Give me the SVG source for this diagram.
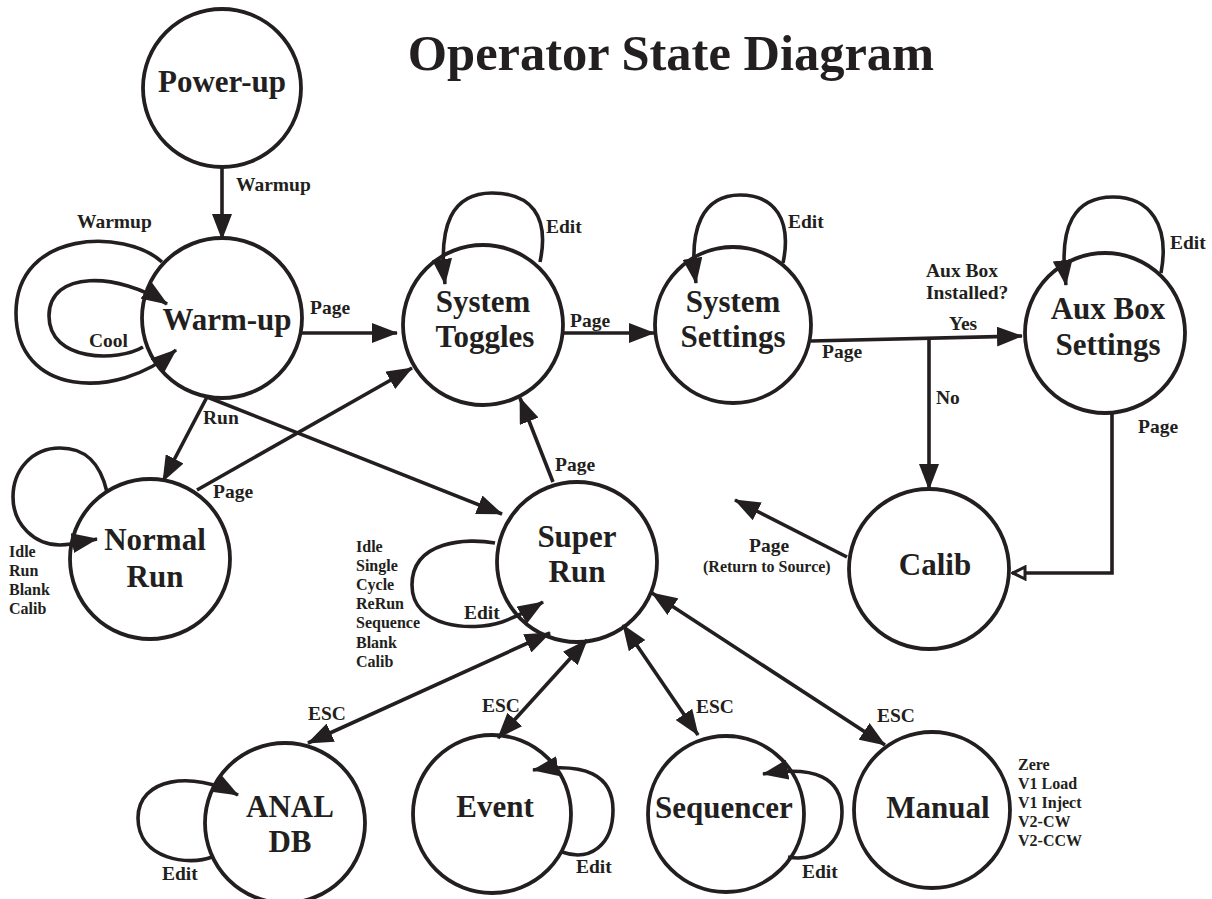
<svg xmlns="http://www.w3.org/2000/svg" width="1212" height="899" viewBox="0 0 1212 899">
<style>
.bg{fill:#ffffff}
.node{fill:none;stroke:#231f20;stroke-width:3.8}
.nt{font-family:"Liberation Serif","DejaVu Serif",serif;font-weight:bold;font-size:31px;fill:#231f20;text-anchor:middle}
.title{font-family:"Liberation Serif","DejaVu Serif",serif;font-weight:bold;font-size:50.5px;fill:#231f20;text-anchor:middle}
.lbl{font-family:"Liberation Serif","DejaVu Serif",serif;font-weight:bold;font-size:19.5px;fill:#231f20}
.sm{font-family:"Liberation Serif","DejaVu Serif",serif;font-weight:bold;font-size:16px;fill:#231f20}
.ln{fill:none;stroke:#231f20;stroke-width:3.6}
.arr{marker-end:url(#ah)}
.dbl{marker-end:url(#ah);marker-start:url(#ah)}
</style>
<defs>
<marker id="ah" viewBox="0 0 26 20" markerWidth="26" markerHeight="20" refX="25" refY="10" orient="auto-start-reverse" markerUnits="userSpaceOnUse">
<path d="M0,0 L26,10 L0,20 z" fill="#231f20"/>
</marker>
<marker id="oh" viewBox="0 0 16 16" markerWidth="16" markerHeight="16" refX="15" refY="8" orient="auto" markerUnits="userSpaceOnUse">
<path d="M2,2 L14,8 L2,14 z" fill="#ffffff" stroke="#231f20" stroke-width="3"/>
</marker>
</defs>
<rect class="bg" x="0" y="0" width="1212" height="899"/>
<text class="title" x="671" y="70">Operator State Diagram</text>

<g id="connectors">
<path class="ln arr" d="M222,168 L222,239"/>
<text class="lbl" x="236" y="191">Warmup</text>
<path class="ln arr" d="M162,262 C125,228 16,230 16,313 C16,395 115,402 176,350"/>
<text class="lbl" x="77" y="228">Warmup</text>
<path class="ln arr" d="M143,347 C118,362 49,362 49,316 C49,270 118,272 167,304"/>
<text class="lbl" x="89" y="347">Cool</text>
<path class="ln arr" d="M302,333 L397,333"/>
<text class="lbl" x="310" y="314">Page</text>
<path class="ln arr" d="M540,262 C550,215 530,193 492,193 C452,193 438,225 445,284"/>
<text class="lbl" x="546" y="233">Edit</text>
<path class="ln arr" d="M563,333 L654,333"/>
<text class="lbl" x="570" y="327">Page</text>
<path class="ln arr" d="M783,263 C792,220 775,195 740,195 C703,195 688,228 696,283"/>
<text class="lbl" x="788" y="228">Edit</text>
<path class="ln arr" d="M811,341 L1022,336"/>
<text class="lbl" x="822" y="358">Page</text>
<text class="lbl" x="949" y="330">Yes</text>
<text class="lbl" x="926" y="277">Aux Box</text>
<text class="lbl" x="926" y="299">Installed?</text>
<path class="ln arr" d="M929,340 L929,489"/>
<text class="lbl" x="936" y="404">No</text>
<path class="ln arr" d="M1161,273 C1170,225 1150,197 1113,197 C1075,197 1058,225 1066,285"/>
<text class="lbl" x="1170" y="249">Edit</text>
<path class="ln" d="M1112,412 L1112,573 L1012,573" style="marker-end:url(#oh)"/>
<text class="lbl" x="1138" y="433">Page</text>
<path class="ln arr" d="M847,557 L735,500"/>
<text class="lbl" x="749" y="552">Page</text>
<text class="sm" x="703" y="572">(Return to Source)</text>
<path class="ln arr" d="M207,397 L163,481"/>
<text class="lbl" x="203" y="424">Run</text>
<path class="ln arr" d="M207,397 L502,514"/>
<path class="ln arr" d="M197,490 L412,368"/>
<text class="lbl" x="213" y="498">Page</text>
<path class="ln arr" d="M553,482 L520,398"/>
<text class="lbl" x="555" y="471">Page</text>
<path class="ln arr" d="M107,492 C100,462 85,448 60,448 C32,448 13,470 13,497 C13,525 35,545 60,545 C75,545 85,541 97,539"/>
<text class="sm" x="9" y="557">Idle</text>
<text class="sm" x="9" y="576">Run</text>
<text class="sm" x="9" y="595">Blank</text>
<text class="sm" x="9" y="614">Calib</text>
<path class="ln arr" d="M495,543 C468,538 412,540 412,585 C412,628 472,632 502,622 C518,616 530,610 543,602"/>
<text class="lbl" x="464" y="619">Edit</text>
<text class="sm" x="356" y="552">Idle</text>
<text class="sm" x="356" y="571">Single</text>
<text class="sm" x="356" y="590">Cycle</text>
<text class="sm" x="356" y="609">ReRun</text>
<text class="sm" x="356" y="628">Sequence</text>
<text class="sm" x="356" y="648">Blank</text>
<text class="sm" x="356" y="667">Calib</text>
<path class="ln dbl" d="M550,633 L308,743"/>
<text class="lbl" x="308" y="720">ESC</text>
<path class="ln dbl" d="M587,640 L498,738"/>
<text class="lbl" x="482" y="712">ESC</text>
<path class="ln dbl" d="M623,625 L698,735"/>
<text class="lbl" x="696" y="713">ESC</text>
<path class="ln dbl" d="M652,593 L885,745"/>
<text class="lbl" x="877" y="722">ESC</text>
<path class="ln arr" d="M212,857 C190,866 138,860 138,818 C138,778 192,770 238,795"/>
<text class="lbl" x="162" y="880">Edit</text>
<path class="ln arr" d="M562,852 C590,862 613,845 613,810 C613,775 585,762 533,770"/>
<text class="lbl" x="576" y="873">Edit</text>
<path class="ln arr" d="M788,857 C815,862 842,845 842,812 C842,778 815,765 763,774"/>
<text class="lbl" x="802" y="878">Edit</text>
<text class="sm" x="1018" y="770">Zere</text>
<text class="sm" x="1018" y="789">V1 Load</text>
<text class="sm" x="1018" y="808">V1 Inject</text>
<text class="sm" x="1018" y="827">V2-CW</text>
<text class="sm" x="1018" y="846">V2-CCW</text>
</g>

<g id="power-up"><circle class="node" cx="222" cy="88" r="79"/><text class="nt" x="222" y="92">Power-up</text></g>
<g id="warm-up"><circle class="node" cx="222" cy="318" r="80"/><text class="nt" x="227" y="330">Warm-up</text></g>
<g id="system-toggles"><circle class="node" cx="483" cy="325" r="80"/><text class="nt" x="483" y="312">System</text><text class="nt" x="485" y="347">Toggles</text></g>
<g id="system-settings"><circle class="node" cx="733" cy="325" r="78"/><text class="nt" x="733" y="312">System</text><text class="nt" x="733" y="347">Settings</text></g>
<g id="aux-box-settings"><circle class="node" cx="1105" cy="333" r="80"/><text class="nt" x="1108" y="319">Aux Box</text><text class="nt" x="1108" y="355">Settings</text></g>
<g id="normal-run"><circle class="node" cx="150" cy="559" r="80"/><text class="nt" x="155" y="550">Normal</text><text class="nt" x="155" y="587">Run</text></g>
<g id="super-run"><circle class="node" cx="577" cy="562" r="80"/><text class="nt" x="577" y="547">Super</text><text class="nt" x="577" y="582">Run</text></g>
<g id="calib"><circle class="node" cx="929" cy="569" r="80"/><text class="nt" x="935" y="575">Calib</text></g>
<g id="anal-db"><circle class="node" cx="285" cy="823" r="80"/><text class="nt" x="290" y="817">ANAL</text><text class="nt" x="290" y="852">DB</text></g>
<g id="event"><circle class="node" cx="492" cy="814" r="79"/><text class="nt" x="495" y="817">Event</text></g>
<g id="sequencer"><circle class="node" cx="726" cy="814" r="78"/><text class="nt" x="724" y="818">Sequencer</text></g>
<g id="manual"><circle class="node" cx="932" cy="810" r="78"/><text class="nt" x="938" y="818">Manual</text></g>
</svg>
